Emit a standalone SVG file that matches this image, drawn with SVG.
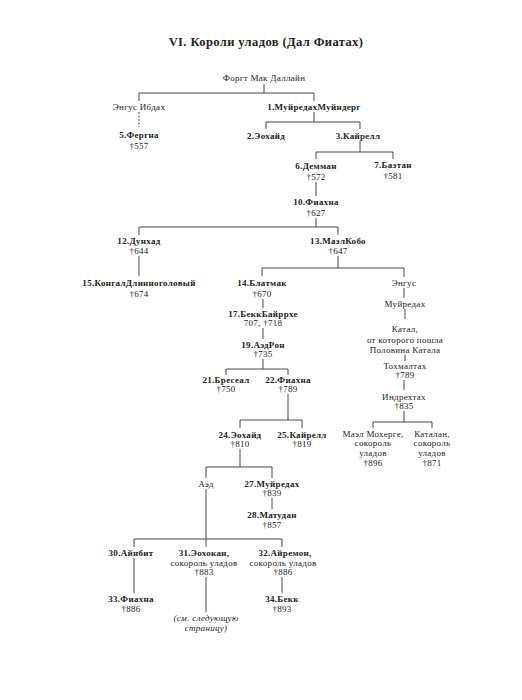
<svg xmlns="http://www.w3.org/2000/svg" width="522" height="700" viewBox="0 0 522 700">
<style>
text{font-family:"Liberation Serif","DejaVu Serif",serif;font-size:9px;fill:#222;text-anchor:middle;letter-spacing:0.3px}
.b{font-weight:bold}
.i{font-style:italic}
.title{font-size:12.5px;font-weight:bold;letter-spacing:0.4px}
#connectors path{stroke:#333;stroke-width:0.9;fill:none}
#connectors .dash{stroke-dasharray:2 1.5}
</style>
<rect width="522" height="700" fill="#fff"/>
<text class="title" x="266" y="46">VI. Короли уладов (Дал Фиатах)</text>
<g id="connectors">
<path d="M264 84V93M139 93H314M139 93V101M314 93V101"/>
<path class="dash" d="M139 112V127"/>
<path d="M314 112V122M266 122H360M266 122V129M360 122V129"/>
<path d="M360 141V152M316 152H393M316 152V159M393 152V159"/>
<path d="M316 182V196"/>
<path d="M316 218V227M139 227H338M139 227V235M338 227V235"/>
<path d="M139 256V276"/>
<path d="M338 256V268M262 268H404M262 268V276M404 268V277"/>
<path d="M404 288V298M405 309V319M405 355V361M404 380V390"/>
<path d="M404 411V422M373 422H432M373 422V428M432 422V428"/>
<path d="M263 299V308M263 328V339"/>
<path d="M263 359V369M226 369H288M226 369V375M288 369V375"/>
<path d="M288 394V420M240 420H302M240 420V428M302 420V428"/>
<path d="M240 449V467M206 467H272M206 467V478M272 467V478"/>
<path d="M272 498V509"/>
<path d="M206 489V547M134 539H282M134 539V547M282 539V547"/>
<path d="M134 558V593M206 577V612M282 577V593"/>
</g>
<g id="n0"><text x="264" y="81">Форгт Мак Даллайн</text></g>
<g id="nEI"><text x="139" y="110">Энгус Ибдах</text></g>
<g id="n1"><text class="b" x="314" y="110">1.МуйредахМуйндерг</text></g>
<g id="n5"><text class="b" x="139" y="138">5.Фергна</text><text x="139" y="149">†557</text></g>
<g id="n2"><text class="b" x="266" y="139">2.Эохайд</text></g>
<g id="n3"><text class="b" x="358" y="139">3.Кайрелл</text></g>
<g id="n6"><text class="b" x="316" y="169">6.Демман</text><text x="316" y="180">†572</text></g>
<g id="n7"><text class="b" x="393" y="168">7.Баэтан</text><text x="393" y="179">†581</text></g>
<g id="n10"><text class="b" x="316" y="205">10.Фиахна</text><text x="316" y="216">†627</text></g>
<g id="n12"><text class="b" x="139" y="244">12.Дунхад</text><text x="139" y="254">†644</text></g>
<g id="n13"><text class="b" x="338" y="244">13.МаэлКобо</text><text x="338" y="254">†647</text></g>
<g id="n15"><text class="b" x="139" y="286">15.КонгалДлинноголовый</text><text x="139" y="297">†674</text></g>
<g id="n14"><text class="b" x="262" y="286">14.Блатмак</text><text x="262" y="297">†670</text></g>
<g id="nEngus"><text x="404" y="286">Энгус</text></g>
<g id="nMuir"><text x="405" y="307">Муйредах</text></g>
<g id="nKatal"><text x="405" y="332">Катал,</text><text x="405" y="343">от которого пошла</text><text x="405" y="353">Половина Катала</text></g>
<g id="nTox"><text x="405" y="369">Тохмалтах</text><text x="405" y="378">†789</text></g>
<g id="nInd"><text x="404" y="400">Индрехтах</text><text x="404" y="409">†835</text></g>
<g id="nMM"><text x="373" y="437">Маэл Мохерге,</text><text x="373" y="446">сокороль</text><text x="373" y="456">уладов</text><text x="373" y="466">†896</text></g>
<g id="nKatalan"><text x="432" y="437">Каталан,</text><text x="432" y="446">сокороль</text><text x="432" y="456">уладов</text><text x="432" y="466">†871</text></g>
<g id="n17"><text class="b" x="263" y="317">17.БеккБайррхе</text><text x="263" y="326">707, †718</text></g>
<g id="n19"><text class="b" x="263" y="348">19.АэдРон</text><text x="263" y="357">†735</text></g>
<g id="n21"><text class="b" x="226" y="383">21.Бресеал</text><text x="226" y="392">†750</text></g>
<g id="n22"><text class="b" x="288" y="383">22.Фиахна</text><text x="288" y="392">†789</text></g>
<g id="n24"><text class="b" x="240" y="438">24.Эохайд</text><text x="240" y="447">†810</text></g>
<g id="n25"><text class="b" x="302" y="438">25.Кайрелл</text><text x="302" y="447">†819</text></g>
<g id="nAed"><text x="206" y="487">Аэд</text></g>
<g id="n27"><text class="b" x="272" y="487">27.Муйредах</text><text x="272" y="496">†839</text></g>
<g id="n28"><text class="b" x="272" y="518">28.Матудан</text><text x="272" y="528">†857</text></g>
<g id="n30"><text class="b" x="131" y="556">30.Айнбит</text></g>
<g id="n31"><text class="b" x="204" y="556">31.Эохокан,</text><text x="204" y="566">сокороль уладов</text><text x="204" y="575">†883</text></g>
<g id="n32"><text class="b" x="285" y="556">32.Айремон,</text><text x="283" y="566">сокороль уладов</text><text x="283" y="575">†886</text></g>
<g id="n33"><text class="b" x="131" y="602">33.Фиахна</text><text x="131" y="612">†886</text></g>
<g id="n34"><text class="b" x="282" y="602">34.Бекк</text><text x="282" y="612">†893</text></g>
<g id="nSee"><text class="i" x="206" y="621">(см. следующую</text><text class="i" x="206" y="631">страницу)</text></g>
</svg>
